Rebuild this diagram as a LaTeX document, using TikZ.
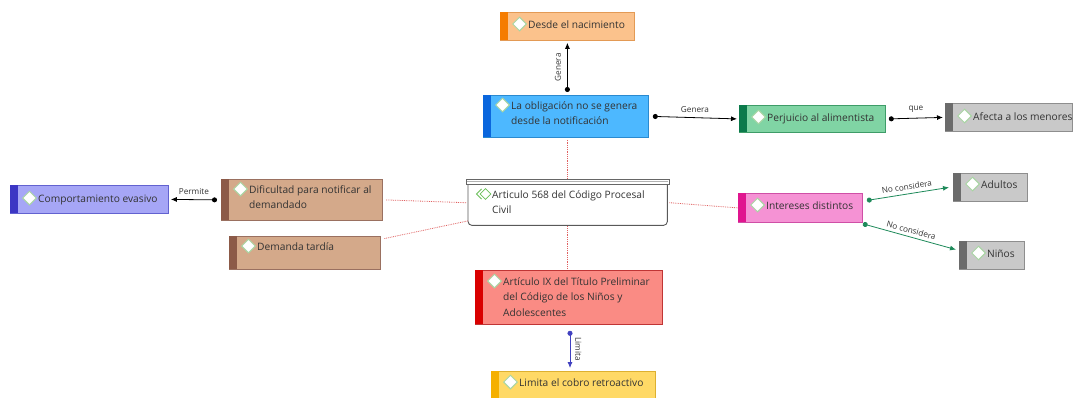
\documentclass[tikz,border=0pt]{standalone}
\usepackage{fontspec}
\setmainfont{Open Sans}
\usetikzlibrary{arrows.meta,shapes.geometric,calc}
\definecolor{txt}{HTML}{333333}
\definecolor{dgreen}{HTML}{A8D5A2}
\definecolor{oF}{HTML}{FBC28C}\definecolor{oS}{HTML}{F57C00}\definecolor{oB}{HTML}{E39A55}
\definecolor{bF}{HTML}{4DB8FF}\definecolor{bS}{HTML}{0A66DD}\definecolor{bB}{HTML}{2A8AD0}
\definecolor{gF}{HTML}{80D4A4}\definecolor{gS}{HTML}{0B7A4B}\definecolor{gB}{HTML}{3E9C68}
\definecolor{yF}{HTML}{C9C9C9}\definecolor{yS}{HTML}{6B6B6B}\definecolor{yB}{HTML}{8E8E8E}
\definecolor{pF}{HTML}{A6A6F6}\definecolor{pS}{HTML}{3C36C4}\definecolor{pB}{HTML}{6262D0}
\definecolor{tF}{HTML}{D4A98A}\definecolor{tS}{HTML}{8C5A48}\definecolor{tB}{HTML}{9A7060}
\definecolor{kF}{HTML}{F592D4}\definecolor{kS}{HTML}{E0158F}\definecolor{kB}{HTML}{CF4FA6}
\definecolor{rF}{HTML}{FA8B84}\definecolor{rS}{HTML}{D90000}\definecolor{rB}{HTML}{C03535}
\definecolor{wF}{HTML}{FFD966}\definecolor{wS}{HTML}{F5B000}\definecolor{wB}{HTML}{DDB030}
\definecolor{lgreen}{HTML}{1E8A5A}
\definecolor{lblue}{HTML}{4040C0}
\definecolor{dotred}{HTML}{E06060}
\definecolor{icon}{HTML}{6BBF59}
\newcommand{\tfont}{\fontsize{10.2}{15.5}\selectfont}
\newcommand{\lfont}{\fontsize{8.2}{9}\selectfont}
\newcommand{\topic}[8]{%
 \node[draw=#6B, fill=#6F, line width=0.8pt, inner sep=0, anchor=north west,
   minimum width={(#4-#2)*1pt}, minimum height={(#5-#3)*1pt}] (#1) at (#2,#3) {};
 \fill[#6S] ([shift={(0.4pt,-0.4pt)}]#1.north west) rectangle ([shift={(8pt,0.4pt)}]#1.south west);
 \node[diamond, draw=dgreen, fill=white, line width=1pt, minimum width=14pt,
   minimum height=14pt, inner sep=0] (#1-d) at ([shift={(19.5pt,-#7pt)}]#1.north west) {};
 \node[anchor=base west, inner sep=0, font=\tfont, text=txt] (#1-t)
   at ([shift={(28pt,{-(#7+4)*1pt})}]#1.north west) {#8};
}
\tikzset{
 conn/.style={line width=0.8pt, {Circle[length=5pt]}-{Latex[length=6pt,width=5pt]}},
 lbl/.style={font=\lfont, text=txt, inner sep=2pt},
 dotl/.style={dotred, densely dotted, line width=0.8pt}
}
\begin{document}
\begin{tikzpicture}[x=1pt,y=-1pt]
\useasboundingbox (0,0) rectangle (1074,397);
\clip (0,0) rectangle (1074,397);
\fill[white] (0,0) rectangle (1074,397);

% central topic
\node[inner sep=0, anchor=north west, minimum width=199pt, minimum height=45pt] (cen) at (468,180) {};
\draw[gray!70!black, line width=0.9pt, fill=white, rounded corners=4pt] (cen.north west) rectangle (cen.south east);
\draw[gray!80!black, line width=0.6pt, fill=white] ([xshift=-2pt,yshift=1pt]cen.north west) rectangle ([xshift=2pt,yshift=-4pt]cen.north east);
\draw[gray!60, line width=0.5pt] ([xshift=-1pt,yshift=-1.6pt]cen.north west) -- ([xshift=1pt,yshift=-1.6pt]cen.north east);
\draw[icon, line width=0.8pt] (481.5,189) -- (476.5,194) -- (481.5,199);
\node[diamond, draw=icon, line width=0.8pt, minimum width=11pt, minimum height=11pt, inner sep=0] (cen-d) at (485.5,194) {};
\node[anchor=base west, inner sep=0, font=\tfont, text=txt] (cen-t) at (492,198)
 {\vtop{\hbox{Articulo 568 del Código Procesal}\hbox{Civil}}};

\topic{nac}{500}{12}{634}{40}{o}{12}{Desde el nacimiento}
\topic{obl}{483}{95}{648}{137}{b}{10}{\vtop{\hbox{La obligación no se genera}\hbox{desde la notificación}}}
\topic{perj}{739}{105}{885}{132}{g}{12}{Perjuicio al alimentista}
\topic{afe}{945}{103}{1072}{131}{y}{13}{Afecta a los menores}
\topic{comp}{10}{185}{168}{213}{p}{13}{Comportamiento evasivo}
\topic{dif}{221}{179}{382}{220}{t}{10}{\vtop{\hbox{Dificultad para notificar al}\hbox{demandado}}}
\topic{dem}{229}{236}{380}{269}{t}{10}{Demanda tardía}
\topic{int}{738}{193}{862}{222}{k}{12}{Intereses distintos}
\topic{adu}{953}{173}{1027}{201}{y}{11}{Adultos}
\topic{nin}{959}{241}{1024}{269}{y}{12}{Niños}
\topic{art}{475}{270}{662}{324}{r}{11}{\vtop{\hbox{Artículo IX del Título Preliminar}\hbox{del Código de los Niños y}\hbox{Adolescentes}}}
\topic{lim}{491}{371}{655}{402}{w}{11}{Limita el cobro retroactivo}

% dotted relations
\draw[dotl] ([yshift=-2pt]obl.south -| cen.north) -- ([yshift=2pt]cen.north);
\draw[dotl] ([xshift=-2pt]cen.west) -- ([xshift=3pt]dif.east);
\draw[dotl] ($(cen.north west)!0.9!(cen.south west)$) -- ($(dem.north east)!0.08!(dem.south east)+(3pt,0)$);
\draw[dotl] ([xshift=2pt]cen.east) -- (int.west);
\draw[dotl] ([yshift=-1pt]cen.south) -- ([yshift=1pt]cen.south |- art.north);

% connectors
\draw[conn] ([yshift=3pt]obl.north -| nac.south) -- node[lbl, midway, rotate=90, anchor=south, yshift=4pt] {Genera} ([yshift=-2pt]nac.south);
\draw[conn] ([xshift=4pt]obl.east) -- node[lbl, midway, above, yshift=3pt] {Genera} ([xshift=-2pt]perj.west);
\draw[conn] ([xshift=3pt]perj.east) -- node[lbl, midway, above, yshift=3pt] {que} ([xshift=-2pt]afe.west);
\draw[conn] ([xshift=-4pt]dif.west) -- node[lbl, midway, above, yshift=3pt] {Permite} ([xshift=2pt]comp.east);
\draw[conn, lgreen] ($(int.north east)!0.25!(int.south east)+(4pt,0)$) -- node[lbl, midway, sloped, above, yshift=1.5pt] {No considera} ([xshift=-4pt]adu.west);
\draw[conn, lgreen] ([yshift=-1pt]int.south east) -- node[lbl, midway, sloped, above, yshift=1pt] {No considera} ($(nin.north west)!0.3!(nin.south west)+(-3pt,0)$);
\draw[conn, lblue] ([yshift=-6pt]art.south -| 570,0) -- node[lbl, midway, rotate=-90, anchor=south, yshift=3pt] {Limita} ([yshift=3pt]570,0 |- lim.north);
\end{tikzpicture}
\end{document}
